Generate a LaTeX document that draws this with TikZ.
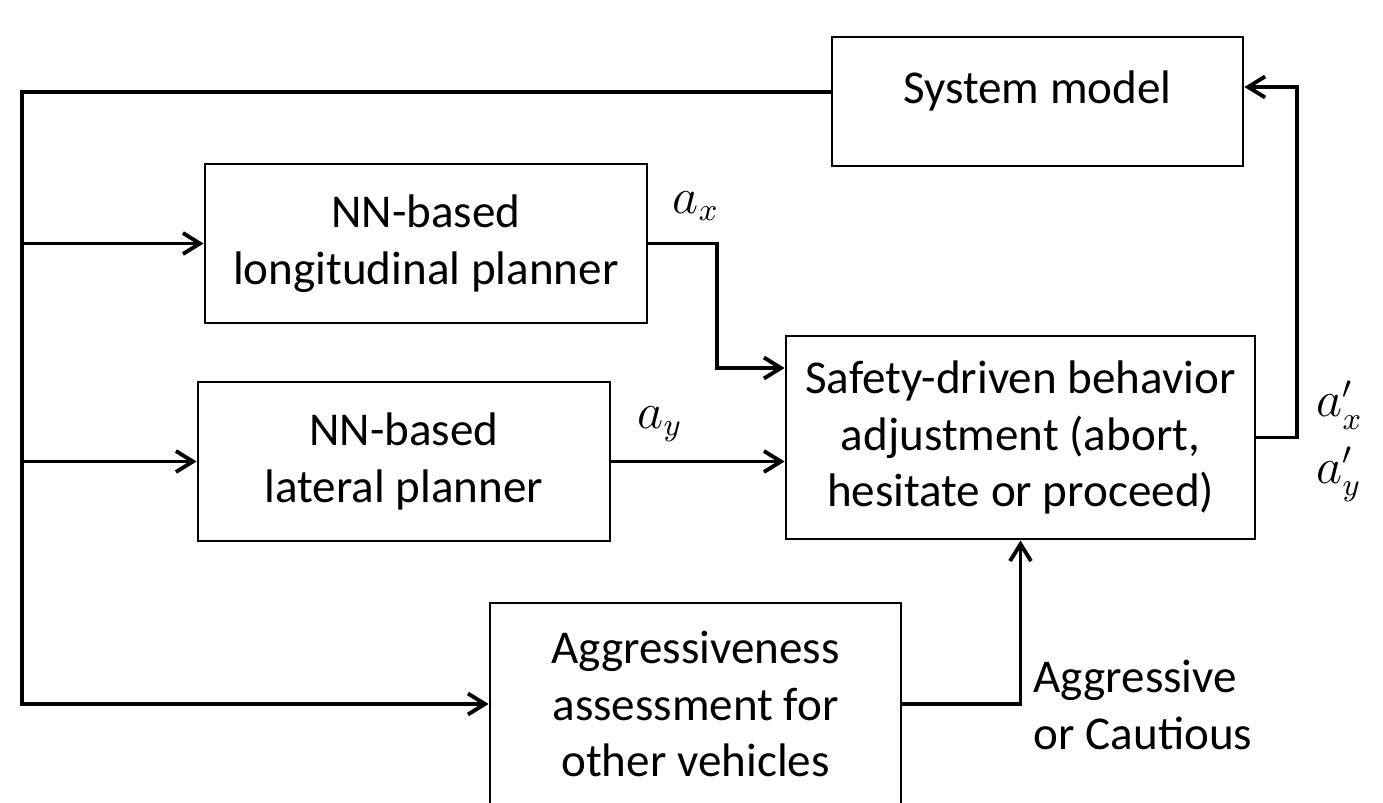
\documentclass[tikz,border=0pt]{standalone}
\usepackage{fontspec}
\setmainfont{Carlito}
\usetikzlibrary{arrows.meta}

\tikzset{
  block/.style={draw, line width=0.8pt, align=center, inner sep=0pt},
  link/.style={line width=1.1pt},
  tag/.style={inner sep=0pt},
  >={Straight Barb[length=1.7mm,width=2.1mm,line width=1.1pt]}
}

\begin{document}
\begin{tikzpicture}[font=\fontsize{13.4}{16.2}\selectfont]
\useasboundingbox (0,0) rectangle (13.83,-8.03);
\clip (0,0) rectangle (13.83,-8.03);

% blocks
\node[block, minimum width=4.11cm, minimum height=1.29cm, text depth=0.28cm] (sys) at (10.375,-1.015) {System model};
\node[block, minimum width=4.42cm, minimum height=1.59cm] (lon) at (4.26,-2.435) {NN-based\\longitudinal planner};
\node[block, minimum width=4.12cm, minimum height=1.59cm] (lat) at (4.04,-4.615) {NN-based\\lateral planner};
\node[block, minimum width=4.69cm, minimum height=2.03cm] (safe) at (10.205,-4.375) {Safety-driven behavior\\adjustment (abort,\\hesitate or proceed)};
\node[block, minimum width=4.11cm, minimum height=2.02cm] (agg) at (6.955,-7.04) {Aggressiveness\\assessment for\\other vehicles};

% turning points
\coordinate (bustop) at (0.22,-0.92);
\coordinate (axturn) at (7.17,-3.68);
\coordinate (sysin) at (12.97,-0.87);

% feedback bus
\draw[link,->] (sys.west |- bustop) -- (bustop) |- (agg.west);
\draw[link,->] (bustop |- lon.west) -- (lon.west);
\draw[link,->] (bustop |- lat.west) -- (lat.west);

% planner outputs
\draw[link,->] (lon.east) -| (axturn) -- (safe.west |- axturn);
\draw[link,->] (lat.east) -- (safe.west |- lat.east);
\node[tag] (ax) at (6.96,-2.06) {$a_x$};
\node[tag] (ay) at (6.6,-4.24) {$a_y$};

% adjusted command back to model
\draw[link,->] (safe.east) -| (sysin) -- (sys.east |- sysin);
\node[tag, anchor=base west] (aoutx) at (13.16,-4.17) {$a'_x$};
\node[tag, anchor=base west] (aouty) at (13.16,-4.83) {$a'_y$};

% aggressiveness result
\draw[link,->] (agg.east) -| (safe.south);
\node[tag, align=left, anchor=west] (mode) at (10.33,-7.05) {Aggressive\\or Cautious};

\end{tikzpicture}
\end{document}
